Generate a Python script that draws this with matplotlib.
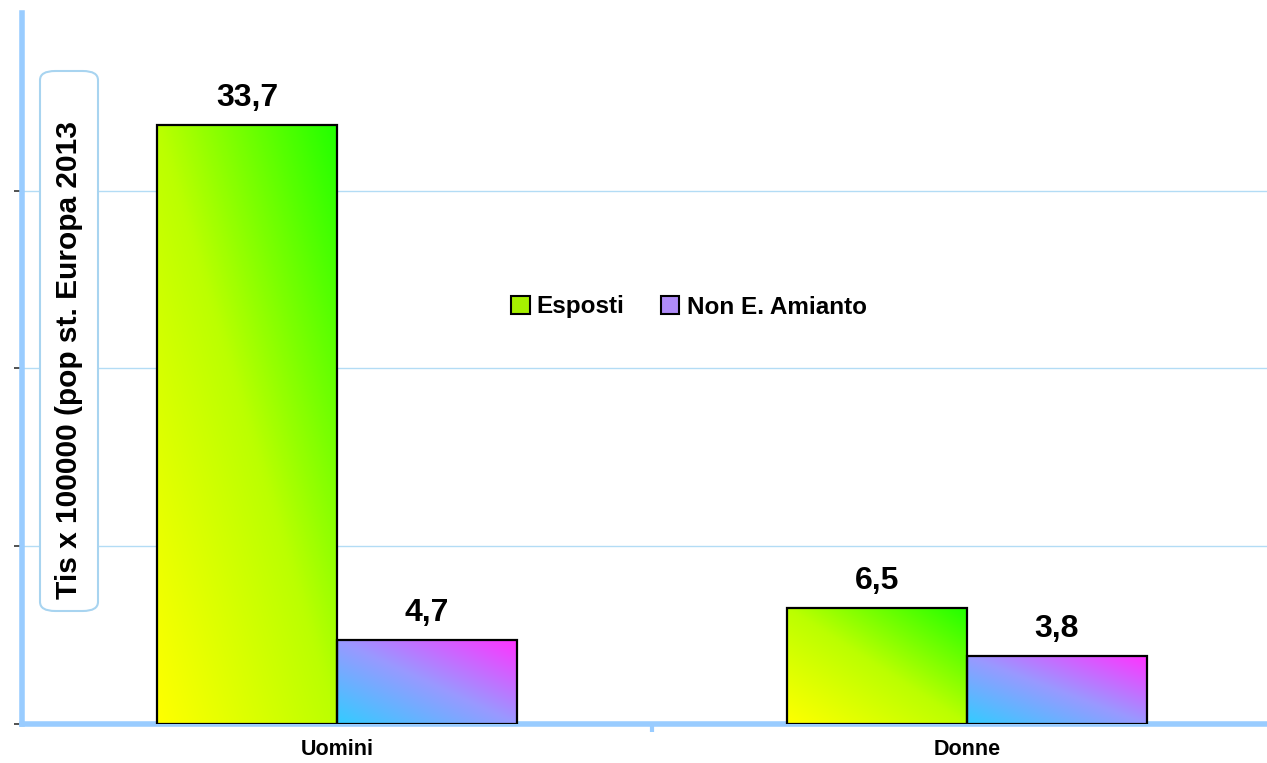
#!/usr/bin/env python3
import numpy as np
import matplotlib
matplotlib.use('Agg')
import matplotlib.pyplot as plt
from matplotlib.patches import FancyBboxPatch, Patch
from matplotlib.colors import LinearSegmentedColormap

## Data
categories = ['Uomini', 'Donne']
series_names = ['Esposti', 'Non E. Amianto']
esposti = [33.7, 6.5]
non_esposti = [4.7, 3.8]
value_labels_esposti = ['33,7', '6,5']
value_labels_non = ['4,7', '3,8']
ylabel = 'Tis x 100000 (pop st. Europa 2013'

## Style
plt.rcParams['font.family'] = ['Liberation Sans', 'DejaVu Sans']
spine_blue = '#99ccff'
grid_blue = '#b3dcf5'
cmap_esp = LinearSegmentedColormap.from_list('esp', ['#ffff00', '#bbff00', '#22ff00'])
cmap_non = LinearSegmentedColormap.from_list('non', ['#33ccff', '#9999ff', '#ff33ff'])
bar_w = 180 / 630

fig = plt.figure(figsize=(12.67, 7.63), dpi=100)
ax = fig.add_axes([22 / 1267, 39 / 763, 1260 / 1267, 711 / 763])

x = np.arange(len(categories))
bars_e = ax.bar(x - bar_w / 2, esposti, bar_w, facecolor='none',
                edgecolor='black', linewidth=1.6, zorder=4)
bars_n = ax.bar(x + bar_w / 2, non_esposti, bar_w, facecolor='none',
                edgecolor='black', linewidth=1.6, zorder=4)

## Diagonal gradient fill for each bar
u, v = np.meshgrid(np.linspace(0, 1, 100), np.linspace(0, 1, 100))
grad = (u + v) / 2
for bars, cmap in ((bars_e, cmap_esp), (bars_n, cmap_non)):
    for b in bars:
        x0, y0 = b.get_x(), b.get_y()
        w, h = b.get_width(), b.get_height()
        im = ax.imshow(grad, cmap=cmap, origin='lower', aspect='auto',
                       extent=(x0, x0 + w, y0, y0 + h), zorder=3,
                       interpolation='bilinear')
        im.set_clip_path(b)

for b, lab in zip(bars_e, value_labels_esposti):
    ax.text(b.get_x() + b.get_width() / 2, b.get_height() + 0.7, lab,
            ha='center', va='bottom', fontsize=23, fontweight='bold')
for b, lab in zip(bars_n, value_labels_non):
    ax.text(b.get_x() + b.get_width() / 2, b.get_height() + 0.7, lab,
            ha='center', va='bottom', fontsize=23, fontweight='bold')

ax.set_xlim(-0.5, 1.5)
ax.set_ylim(0, 40)
ax.set_yticks([0, 10, 20, 30])
ax.set_yticklabels([])
ax.tick_params(axis='y', length=6, width=1.2, color='#333333', direction='out')
ax.set_xticks([0.5])
ax.set_xticklabels([])
ax.tick_params(axis='x', length=6, width=3, color=spine_blue, direction='out')
ax.yaxis.grid(True, color=grid_blue, linewidth=1)
ax.set_axisbelow(True)
for c, cat in zip(x, categories):
    ax.text(c, -0.85, cat, ha='center', va='top', fontsize=15.5, fontweight='bold',
            transform=ax.transData)

for s in ('top', 'right'):
    ax.spines[s].set_visible(False)
for s in ('left', 'bottom'):
    ax.spines[s].set_color(spine_blue)
    ax.spines[s].set_linewidth(4)

## Legend
handles = [Patch(facecolor='#a6f000', edgecolor='black', linewidth=1.5),
           Patch(facecolor='#b08cf8', edgecolor='black', linewidth=1.5)]
ax.legend(handles, series_names, loc='center', bbox_to_anchor=(689 / 1267, 1 - 307 / 763),
          bbox_transform=fig.transFigure, ncol=2, frameon=False,
          prop={'size': 17.5, 'weight': 'bold'}, handlelength=0.75, handleheight=0.75,
          handletextpad=0.3, columnspacing=1.5)

## Y label in rounded box
box = FancyBboxPatch((40 / 1267, 1 - 611 / 763), 58 / 1267, 540 / 763,
                     boxstyle='round,pad=0,rounding_size=0.012',
                     transform=fig.transFigure, facecolor='white',
                     edgecolor='#a8d4f0', linewidth=1.5, zorder=5)
fig.patches.append(box)
fig.text(69 / 1267, 1 - 360 / 763, ylabel, rotation=90, ha='center', va='center',
         fontsize=21.5, fontweight='bold', zorder=6)

fig.savefig('out.png', dpi=100)
